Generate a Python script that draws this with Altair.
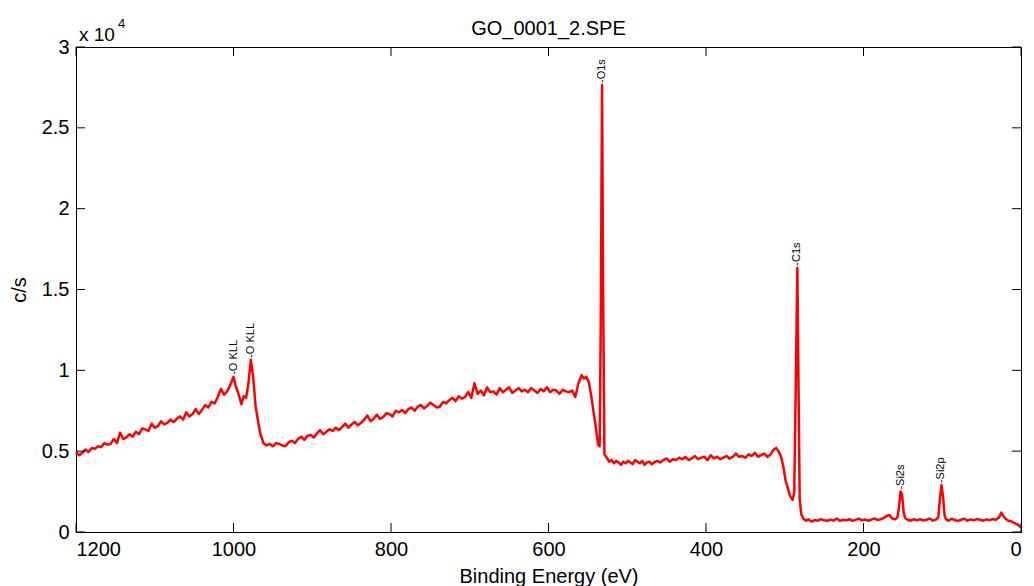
import altair as alt
import pandas as pd

# ---- Spectrum: binding energy (eV) and intensity (c/s), by segment ----
a_be = [1200, 1196, 1192, 1188, 1184, 1180, 1176, 1172, 1168, 1164,
        1160, 1156, 1152, 1148, 1144, 1140, 1136, 1132, 1128, 1124,
        1120, 1116, 1112, 1108, 1104, 1100, 1096, 1092, 1088, 1084,
        1080, 1076, 1072, 1068, 1064, 1060, 1056, 1052, 1048, 1044,
        1040, 1036, 1032, 1028, 1024, 1020, 1016, 1012]
a_cps = [4950, 4750, 4900, 5100, 4950, 5200, 5150, 5300, 5250, 5500,
         5400, 5450, 5750, 5500, 6150, 5750, 5850, 6050, 5900, 6200,
         6050, 6400, 6350, 6250, 6700, 6450, 6550, 6850, 6650, 6750,
         6950, 6800, 7000, 7150, 6950, 7400, 7150, 7300, 7600, 7300,
         7550, 7850, 7700, 8050, 7950, 8350, 8850, 8500]

b_be = [1008, 1004, 1000, 997, 994, 990, 987, 984, 981, 978, 975, 972, 969, 966, 962]
b_cps = [8700, 9100, 9600, 9000, 8600, 7900, 8400, 8300, 9200, 10650, 9600, 7800, 6900, 6100, 5500]

c_be = [958, 954, 950, 946, 942, 938, 934, 930, 926, 922,
        918, 914, 910, 906, 902, 898, 894, 890, 886, 882,
        878, 874, 870, 866, 862, 858, 854, 850, 846, 842,
        838, 834, 830, 826, 822, 818, 814, 810, 806, 802,
        798, 794, 790, 786, 782, 778, 774, 770, 766, 762,
        758, 754, 750, 746, 742, 738, 734, 730, 726, 722,
        718, 714, 710, 706, 702, 698, 694, 690, 686, 682,
        678, 674, 670, 666, 662, 658, 654, 650, 646, 642,
        638, 634, 630, 626, 622, 618, 614, 610, 606, 602,
        598, 594, 590, 586, 582, 578, 574, 570, 566]
c_cps = [5350, 5450, 5300, 5500, 5450, 5350, 5300, 5550, 5650, 5500,
         5750, 5900, 5700, 5950, 6000, 5850, 6100, 6300, 6050, 6200,
         6350, 6250, 6450, 6300, 6500, 6700, 6450, 6650, 6800, 6600,
         6750, 6950, 7200, 6850, 7000, 7250, 7000, 7100, 7350, 7300,
         7150, 7500, 7400, 7550, 7350, 7600, 7700, 7500, 7750, 7850,
         7650, 7800, 8000, 7850, 7700, 7750, 8050, 7950, 8150, 8300,
         8100, 8400, 8250, 8350, 8650, 8300, 9200, 8550, 8750, 8450,
         8950, 8650, 8700, 8500, 8900, 8650, 8800, 8950, 8600, 8750,
         8900, 8700, 8800, 8650, 8900, 8750, 8600, 8850, 8700, 8950,
         8650, 8800, 8750, 8550, 8800, 8700, 8650, 8750, 8350]

d_be = [562, 558, 555, 552, 549, 546, 543, 540, 537, 535, 533.5, 532, 530.5, 529]
d_cps = [9200, 9700, 9500, 9600, 9300, 8500, 7500, 6500, 5400, 5300, 14000, 27650, 14000, 4800]

e_be = [526, 523, 520, 517, 514, 511, 508, 505, 502, 499,
        496, 493, 490, 487, 484, 481, 478, 475, 472, 469, 466,
        462, 458, 454, 450, 446, 442, 438, 434, 430, 426,
        422, 418, 414, 410, 406, 402, 398, 394, 390, 386,
        382, 378, 374, 370, 366, 362, 358, 354, 350, 346,
        342, 338, 334, 330, 326, 322, 318, 314]
e_cps = [4600, 4350, 4450, 4250, 4400, 4300, 4150, 4350, 4250, 4400,
         4300, 4200, 4450, 4350, 4250, 4400, 4150, 4300, 4350, 4200, 4300,
         4400, 4300, 4450, 4550, 4350, 4500, 4450, 4600, 4500, 4650,
         4450, 4550, 4700, 4500, 4600, 4650, 4450, 4750, 4550, 4650,
         4500, 4600, 4700, 4550, 4650, 4850, 4650, 4700, 4600, 4800,
         4700, 4900, 4650, 4750, 4850, 4650, 4800, 5100]

f_be = [311, 308, 305, 302, 299, 296, 293, 290, 288, 286, 284, 282.5, 281, 279, 276, 273]
f_cps = [5200, 5000, 4700, 4100, 3200, 2700, 2200, 2000, 2400, 9000, 16350, 9000, 2000, 1100, 800, 700]

g_be = [270, 266, 262, 258, 254, 250, 246, 242, 238, 234, 230, 226, 222, 218, 214, 210, 206, 202,
        198, 194, 190, 186, 182, 178, 174, 170,
        167, 164, 160, 157, 155, 153, 151, 149, 147, 144,
        140, 136, 132, 128, 124, 120, 116, 112, 108,
        105, 103, 101, 99, 97, 95,
        92, 88, 84, 80, 76, 72, 68, 64, 60, 56, 52, 48, 44, 40, 36, 32, 28,
        25, 22, 19, 16, 12, 8, 4, 0]
g_cps = [780, 650, 740, 700, 800, 720, 690, 770, 700, 830, 690, 760, 720, 790, 690, 750, 830, 720,
         770, 700, 760, 840, 740, 790, 880, 1000,
         1050, 850, 780, 900, 1500, 2500, 2300, 1200, 850, 760,
         700, 790, 720, 800, 710, 760, 830, 700, 770,
         900, 2000, 2900, 2200, 1000, 780,
         700, 820, 740, 690, 760, 820, 700, 780, 720, 800, 760, 700, 780, 730, 800, 760, 900,
         1200, 950, 800, 700, 650, 550, 450, 300]

peak_names = ["-O KLL", "-O KLL", "-O1s", "-C1s", "-Si2s", "-Si2p"]
peak_be = [1000, 978, 532, 284, 152, 101]
peak_cps = [9600, 10650, 27650, 16350, 2500, 2900]

x_ticks = [1200, 1000, 800, 600, 400, 200, 0]
y_ticks = [0, 5000, 10000, 15000, 20000, 25000, 30000]

title_text = "GO_0001_2.SPE"
mult_text = "x 10"
mult_exp_text = "4"

be = a_be + b_be + c_be + d_be + e_be + f_be + g_be
cps = a_cps + b_cps + c_cps + d_cps + e_cps + f_cps + g_cps
spec = pd.DataFrame({"be": be, "cps": cps, "i": range(len(be))})
peaks = pd.DataFrame({"be": peak_be, "cps": peak_cps, "name": peak_names})
xt = pd.DataFrame({"be": x_ticks})
yt = pd.DataFrame({"cps": y_ticks})

W, H = 945, 485
FONT = "Liberation Sans"

xscale = alt.Scale(domain=[0, 1200], reverse=True, nice=False, zero=False)
yscale = alt.Scale(domain=[0, 30000], nice=False)

xenc = alt.X("be:Q", scale=xscale,
             axis=alt.Axis(values=x_ticks, title="Binding Energy (eV)", ticks=False,
                           labelPadding=7, titlePadding=7, format="d"))
yenc = alt.Y("cps:Q", scale=yscale,
             axis=alt.Axis(values=y_ticks, title="c/s", ticks=False, labelExpr="datum.value/10000",
                           labelPadding=7, titlePadding=12))

line = alt.Chart(spec).mark_line(color="#ff0000", strokeWidth=2.5, strokeJoin="round").encode(
    x=xenc, y=yenc, order="i:Q")

labels = alt.Chart(peaks).mark_text(angle=270, align="left", baseline="middle", dx=2,
                                    fontSize=11, font=FONT, color="black").encode(
    x=alt.X("be:Q", scale=xscale), y=alt.Y("cps:Q", scale=yscale), text="name:N")

tick_style = dict(color="black", strokeWidth=1)
xt_bottom = alt.Chart(xt).mark_rule(**tick_style).encode(
    x=alt.X("be:Q", scale=xscale), y=alt.value(H), y2=alt.value(H - 9))
xt_top = alt.Chart(xt).mark_rule(**tick_style).encode(
    x=alt.X("be:Q", scale=xscale), y=alt.value(0), y2=alt.value(9))
yt_left = alt.Chart(yt).mark_rule(**tick_style).encode(
    y=alt.Y("cps:Q", scale=yscale), x=alt.value(0), x2=alt.value(9))
yt_right = alt.Chart(yt).mark_rule(**tick_style).encode(
    y=alt.Y("cps:Q", scale=yscale), x=alt.value(W), x2=alt.value(W - 9))

mult = alt.Chart(pd.DataFrame({"t": [mult_text]})).mark_text(
    align="left", baseline="alphabetic", fontSize=19, font=FONT, color="black").encode(
    x=alt.value(3), y=alt.value(-6), text="t:N")
mult_exp = alt.Chart(pd.DataFrame({"t": [mult_exp_text]})).mark_text(
    align="left", baseline="alphabetic", fontSize=13, font=FONT, color="black").encode(
    x=alt.value(42), y=alt.value(-19), text="t:N")
title = alt.Chart(pd.DataFrame({"t": [title_text]})).mark_text(
    align="center", baseline="middle", fontSize=20, font=FONT, color="black").encode(
    x=alt.value(W / 2), y=alt.value(-18), text="t:N")

chart = alt.layer(line, labels, xt_bottom, xt_top, yt_left, yt_right, mult, mult_exp, title).properties(
    width=W, height=H,
    autosize=alt.AutoSizeParams(type="none"),
    padding={"left": 68, "top": 39, "right": 5, "bottom": 54},
).configure_view(stroke="black", strokeWidth=1).configure_axis(
    grid=False, domain=True, domainColor="black", labelColor="black", titleColor="black",
    labelFont=FONT, titleFont=FONT, labelFontSize=20, titleFontSize=20, titleFontWeight="normal",
)

chart.save("out.html", embed_options={"renderer": "svg", "actions": False})
